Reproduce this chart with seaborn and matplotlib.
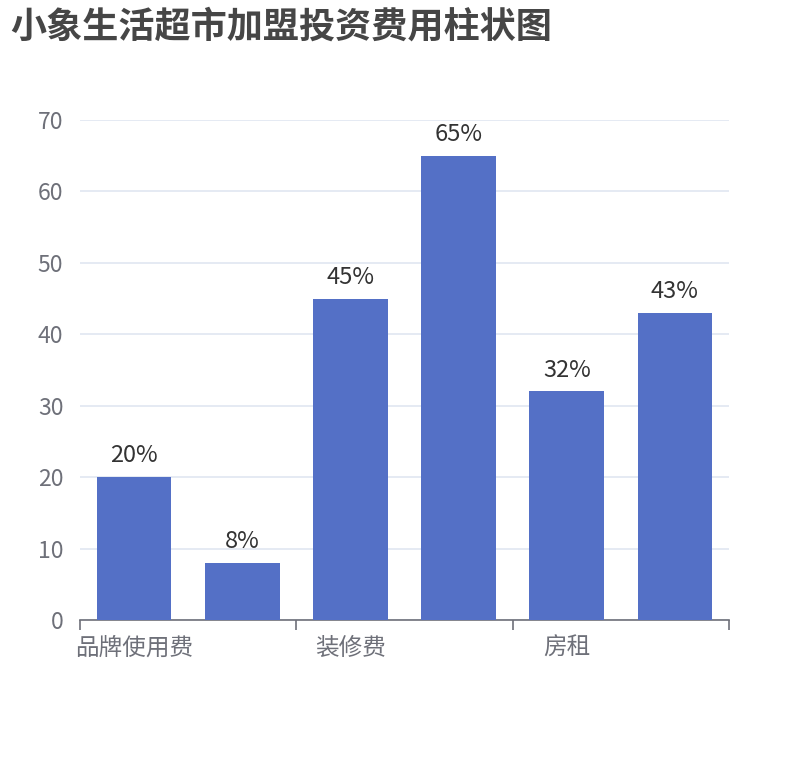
import matplotlib
matplotlib.use("Agg")
import matplotlib.pyplot as plt
import seaborn as sns

# 数据
categories = ["品牌使用费", "加盟费", "装修费", "设备费", "房租", "流动资金"]
values = [20, 8, 45, 65, 32, 43]
shown_labels = ["品牌使用费", "", "装修费", "", "房租", ""]
title = "小象生活超市加盟投资费用柱状图"

sns.set_style("white")
plt.rcParams['font.family'] = ['Noto Sans CJK SC', 'DejaVu Sans']

fig = plt.figure(figsize=(8.1, 7.6), dpi=100)
ax = fig.add_axes([80 / 810, 1 - 620 / 760, 649 / 810, 500 / 760])

sns.barplot(x=categories, y=values, color="#5470C6", saturation=1,
            width=0.69, ax=ax, zorder=3, linewidth=0)

ax.bar_label(ax.containers[0], labels=[f"{v}%" for v in values],
             padding=7, fontsize=17, color="#333333")

ax.set_xlim(-0.5, len(categories) - 0.5)
ax.set_ylim(0, 70)
ax.set_yticks(range(0, 71, 10))
ax.grid(axis="y", color="#E0E6F1", linewidth=1.2, zorder=0)
ax.tick_params(axis="y", length=0, pad=12, labelsize=16.5, labelcolor="#6E7079")

# 刻度在两类之间，标签隔一个显示
ax.set_xticks([-0.5, 1.5, 3.5, 5.5])
ax.set_xticklabels([])
ax.set_xticks(range(len(categories)), minor=True)
ax.set_xticklabels(shown_labels, minor=True)
ax.tick_params(axis="x", which="major", bottom=True, length=7, width=1.2,
               color="#6E7079")
ax.tick_params(axis="x", which="minor", bottom=True, length=0, pad=12,
               labelsize=17, labelcolor="#6E7079")

for side in ["top", "right", "left"]:
    ax.spines[side].set_visible(False)
ax.spines["bottom"].set_color("#6E7079")
ax.spines["bottom"].set_linewidth(1.2)
ax.set_xlabel("")
ax.set_ylabel("")

fig.text(10 / 810, 1 - 27 / 760, title, fontsize=26, fontweight="bold",
         color="#464646", va="center", ha="left")

fig.savefig("out.png", dpi=100, facecolor="white")
